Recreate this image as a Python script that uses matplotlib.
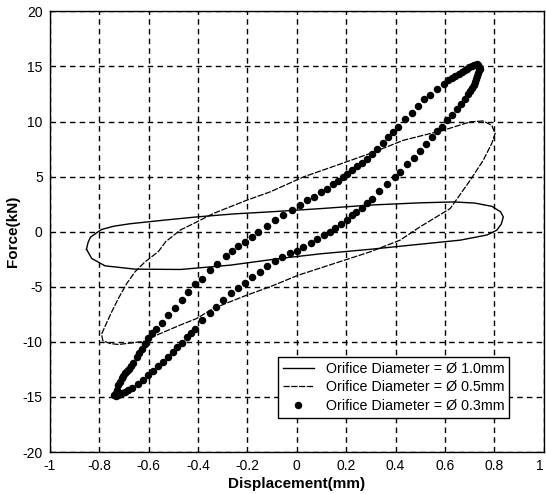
import matplotlib
matplotlib.use("Agg")
import matplotlib.pyplot as plt
import numpy as np

plt.rcParams['font.family'] = ['Liberation Sans', 'DejaVu Sans']
plt.rcParams['axes.unicode_minus'] = False

# Orifice diameter 1.0 mm: displacement (mm) / force (kN) loop
d10_x = [-0.851, -0.845, -0.835, -0.81, -0.79, -0.74, -0.675, -0.54, -0.405, -0.25,
         -0.108, 0.1, 0.3, 0.5, 0.634, 0.72, 0.79, 0.825, 0.836, 0.828, 0.81,
         0.77, 0.661, 0.45, 0.297, 0.1, -0.068, -0.27, -0.47, -0.655, -0.776,
         -0.83, -0.851]
d10_y = [-1.6, -1.0, -0.5, -0.1, 0.2, 0.5, 0.72, 1.04, 1.34, 1.62,
         1.80, 2.1, 2.42, 2.62, 2.70, 2.6, 2.3, 1.8, 1.34, 0.7, 0.14,
         -0.3, -0.77, -1.25, -1.6, -2.0, -2.43, -3.04, -3.43, -3.4, -3.1,
         -2.43, -1.6]

# Orifice diameter 0.5 mm
d05_x = [0.755, 0.702, 0.594, 0.432, 0.297, 0.162, 0.027, -0.108, -0.202, -0.338,
         -0.412, -0.472, -0.53, -0.56, -0.614, -0.655, -0.688, -0.722, -0.749,
         -0.77, -0.79, -0.785, -0.756, -0.722, -0.655, -0.614, -0.567, -0.472,
         -0.405, -0.338, -0.202, -0.108, 0.006, 0.297, 0.418, 0.499, 0.621,
         0.702, 0.755, 0.789, 0.803, 0.789, 0.755]
d05_y = [10.05, 9.97, 9.21, 8.3, 7.1, 6.03, 4.97, 3.61, 2.86, 1.65,
         0.8, 0.14, -0.9, -1.8, -2.74, -3.65, -4.7, -6.06, -7.28,
         -8.3, -9.3, -9.9, -10.15, -10.24, -10.06, -9.94, -9.39, -8.48,
         -7.88, -6.97, -5.76, -5.0, -3.95, -1.83, -0.77, 0.44, 2.1,
         4.67, 6.49, 8.0, 8.91, 9.66, 10.05]

# Orifice diameter 0.3 mm (sampled points)
d03_x = [-0.738, -0.733, -0.727, -0.722, -0.716, -0.709, -0.702, -0.695, -0.687,
         -0.679, -0.670, -0.661, -0.648, -0.637, -0.625, -0.614, -0.603, -0.587,
         -0.571, -0.547, -0.520, -0.493, -0.466, -0.439, -0.412, -0.385, -0.351,
         -0.321, -0.288, -0.263, -0.236, -0.209, -0.182, -0.155, -0.121, -0.088,
         -0.054, -0.020, 0.013, 0.040, 0.070, 0.097, 0.124, 0.148, 0.168, 0.186,
         0.202, 0.223, 0.243, 0.263, 0.283, 0.304, 0.326, 0.348, 0.371, 0.391,
         0.411, 0.438, 0.466, 0.492, 0.515, 0.540, 0.567, 0.594, 0.614, 0.630,
         0.641, 0.655, 0.668, 0.679, 0.688, 0.699, 0.709, 0.719, 0.729, 0.735,
         0.739, 0.741, 0.739, 0.735, 0.731, 0.727, 0.722, 0.716, 0.709, 0.702,
         0.695, 0.681, 0.664, 0.648, 0.628, 0.607, 0.587, 0.567, 0.547, 0.523,
         0.499, 0.475, 0.448, 0.418, 0.398, 0.364, 0.334, 0.304, 0.283, 0.263,
         0.240, 0.223, 0.202, 0.178, 0.155, 0.135, 0.111, 0.083, 0.057, 0.027,
         0.002, -0.027, -0.061, -0.088, -0.119, -0.149, -0.182, -0.209, -0.236,
         -0.267, -0.300, -0.327, -0.351, -0.385, -0.412, -0.428, -0.445, -0.466,
         -0.486, -0.500, -0.520, -0.540, -0.560, -0.581, -0.601, -0.621, -0.641,
         -0.668, -0.683, -0.695, -0.706, -0.715, -0.724, -0.731]
d03_y = [-14.84, -14.62, -14.35, -13.93, -13.62, -13.32, -13.08, -12.87, -12.68,
         -12.50, -12.22, -11.96, -11.42, -11.05, -10.69, -10.21, -9.69, -9.24,
         -8.87, -8.33, -7.60, -6.90, -6.22, -5.46, -4.79, -4.25, -3.49,
         -2.89, -2.22, -1.74, -1.32, -0.90, -0.47, -0.02, 0.53, 1.04,
         1.50, 1.95, 2.40, 2.86, 3.16, 3.61, 3.92, 4.31, 4.61, 4.92,
         5.28, 5.64, 5.94, 6.24, 6.64, 7.03, 7.55, 8.06, 8.60, 9.06,
         9.51, 10.27, 10.81, 11.42, 12.00, 12.45, 12.99, 13.45, 13.75, 13.95,
         14.14, 14.32, 14.50, 14.66, 14.81, 14.93, 15.05, 15.15, 15.20, 15.15,
         14.96, 14.80, 14.66, 14.40, 14.14, 13.87, 13.60, 13.32, 13.05, 12.80,
         12.54, 12.09, 11.63, 11.18, 10.63, 10.12, 9.51, 9.15, 8.55, 7.94,
         7.33, 6.73, 6.12, 5.43, 4.92, 4.31, 3.70, 3.01, 2.56, 2.16,
         1.80, 1.56, 1.10, 0.74, 0.35, -0.02, -0.32, -0.62, -1.07, -1.38,
         -1.74, -1.98, -2.28, -2.65, -3.13, -3.65, -4.10, -4.64, -5.10,
         -5.55, -6.22, -6.88, -7.37, -8.03, -8.79, -9.18, -9.60, -10.09,
         -10.45, -10.96, -11.36, -11.81, -12.20, -12.63, -13.02, -13.48, -13.84,
         -14.23, -14.40, -14.54, -14.65, -14.75, -14.82, -14.88]

x_ticks = [-1, -0.8, -0.6, -0.4, -0.2, 0, 0.2, 0.4, 0.6, 0.8, 1]
x_ticklabels = ['-1', '-0.8', '-0.6', '-0.4', '-0.2', '0', '0.2', '0.4', '0.6', '0.8', '1']
y_ticks = [-20, -15, -10, -5, 0, 5, 10, 15, 20]
y_ticklabels = ['-20', '-15', '-10', '-5', '0', '5', '10', '15', '20']

labels = ['Orifice Diameter = \u00d8 1.0mm',
          'Orifice Diameter = \u00d8 0.5mm',
          'Orifice Diameter = \u00d8 0.3mm']

fig = plt.figure(figsize=(5.46, 4.94), dpi=100)
ax = fig.add_axes([0.091, 0.085, 0.905, 0.892])

ax.plot(d10_x, d10_y, color='black', lw=1.0, label=labels[0])
ax.plot(d05_x, d05_y, color='black', lw=0.9, linestyle=(0, (5, 1.2)), label=labels[1])
ax.plot(d03_x, d03_y, linestyle='none', marker='o', markersize=4.4,
        markerfacecolor='black', markeredgecolor='black', label=labels[2])

ax.set_xlim(-1, 1)
ax.set_ylim(-20, 20)
ax.set_xticks(x_ticks)
ax.set_xticklabels(x_ticklabels)
ax.set_yticks(y_ticks)
ax.set_yticklabels(y_ticklabels)
ax.tick_params(direction='in', length=0, labelsize=10, pad=5, colors='black')
# the last x label sits against the right edge of the figure
ax.get_xticklabels()[-1].set_horizontalalignment('right')
ax.grid(True, color='black', linestyle=(0, (4, 3)), linewidth=1.0)
for s in ax.spines.values():
    s.set_color('black')
    s.set_linewidth(1.0)

ax.set_xlabel('Displacement(mm)', fontsize=11, fontweight='bold', labelpad=3)
ax.set_ylabel('Force(kN)', fontsize=11, fontweight='bold', labelpad=2)

leg = ax.legend(loc='lower right', bbox_to_anchor=(0.93, 0.077), fontsize=10.3,
                frameon=True, fancybox=False, edgecolor='black', framealpha=1,
                handlelength=2.2, borderpad=0.35, labelspacing=0.33,
                handletextpad=0.8, borderaxespad=0)
leg.get_frame().set_linewidth(1.0)

fig.savefig('out.png', dpi=100, facecolor='white')
